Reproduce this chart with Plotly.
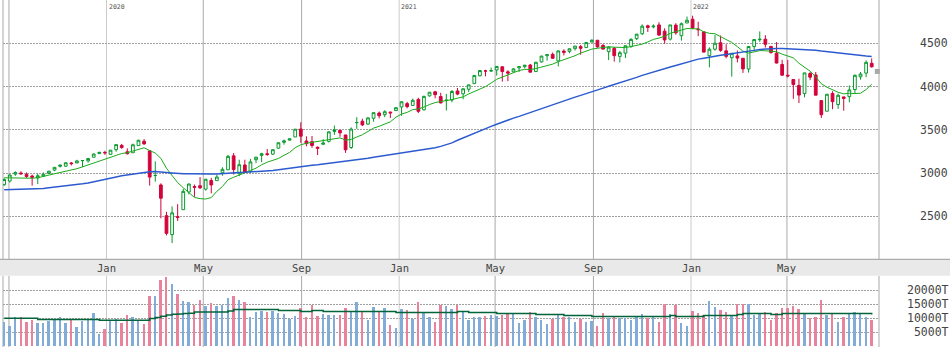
import numpy as np
import pandas as pd
import plotly.graph_objects as go

# Weekly S&P 500 bars, week of 2019-08-26 through week of 2022-08-15
first_week = "2019-08-26"

opens = [
    2866.7, 2909.0, 2988.4, 3001.5, 2983.5, 2967.1, 2944.2, 2965.8, 2996.5, 3035.4,
    3079.0, 3080.3, 3117.9, 3117.4, 3143.9, 3141.9, 3183.6, 3226.1, 3240.1,
    3217.6, 3271.1, 3321.0, 3247.2, 3235.7, 3318.3, 3369.0, 3257.6, 2974.3, 2863.9,
    2508.6, 2290.7, 2498.1, 2578.3, 2782.5, 2845.6, 2854.7, 2815.0, 2915.5, 2913.9,
    3004.1, 3038.8, 3199.9, 2993.8, 3094.4, 3018.6, 3155.3, 3205.1, 3224.3, 3219.8,
    3288.3, 3356.0, 3380.9, 3418.1, 3509.7, 3371.9, 3363.6, 3285.6, 3333.9, 3367.3,
    3500.0, 3493.5, 3441.4, 3296.2, 3583.0, 3600.2, 3566.8, 3634.2, 3694.7, 3675.3,
    3693.4, 3723.0,
    3764.6, 3803.1, 3781.9, 3851.7, 3731.2, 3892.6, 3939.6, 3885.6, 3842.5, 3844.4,
    3949.6, 3916.5, 3969.3, 4034.4, 4124.7, 4179.8, 4185.0, 4192.0, 4228.3, 4169.9,
    4170.2, 4216.5, 4229.3, 4248.9, 4173.4, 4284.9, 4356.5, 4372.4, 4296.4, 4409.6,
    4406.9, 4437.8, 4461.7, 4450.3, 4513.8, 4535.4, 4474.8, 4403.0, 4442.1, 4348.8,
    4385.4, 4463.7, 4553.7, 4610.6, 4701.5, 4689.3, 4712.0, 4640.2, 4548.4, 4710.3,
    4587.9, 4734.0,
    4778.1, 4655.3, 4632.2, 4356.3, 4431.8, 4505.8, 4412.6, 4332.7, 4354.2, 4327.0,
    4202.8, 4462.4, 4541.1, 4548.0, 4462.6, 4385.6, 4255.3, 4130.6, 4081.3, 4013.0,
    3919.4, 4151.1, 4134.7, 3838.2, 3715.3, 3920.8, 3792.6, 3880.9, 3883.8, 3965.7,
    4112.4, 4155.9, 4269.4,
]
highs = [
    2940.1, 2985.9, 3020.0, 3022.0, 3008.0, 2983.9, 2993.3, 3008.3, 3027.4, 3066.9,
    3097.8, 3120.5, 3127.6, 3154.3, 3150.6, 3176.3, 3225.6, 3247.9, 3258.1,
    3267.1, 3329.9, 3337.8, 3285.9, 3341.4, 3385.1, 3393.5, 3259.8, 3136.7, 2882.6,
    2553.9, 2615.9, 2641.4, 2818.6, 2879.2, 2869.0, 2954.9, 2934.3, 2945.8, 2980.3,
    3068.7, 3211.7, 3233.1, 3155.5, 3155.5, 3165.8, 3186.8, 3235.3, 3279.3, 3272.0,
    3352.5, 3387.9, 3400.0, 3509.2, 3588.1, 3425.6, 3428.9, 3306.9, 3393.6, 3482.3,
    3549.9, 3502.4, 3441.4, 3529.0, 3646.0, 3628.5, 3644.3, 3699.2, 3712.4, 3726.7,
    3711.2, 3760.2,
    3826.7, 3823.6, 3861.5, 3870.9, 3894.6, 3937.2, 3950.4, 3928.6, 3914.5, 3960.3,
    3983.9, 3978.2, 4020.6, 4129.5, 4191.3, 4194.2, 4218.8, 4238.0, 4237.0, 4188.7,
    4213.4, 4238.0, 4249.7, 4261.7, 4286.1, 4355.0, 4372.0, 4393.7, 4415.2, 4430.0,
    4440.8, 4468.0, 4480.3, 4513.3, 4545.9, 4535.4, 4492.8, 4465.4, 4457.3, 4412.0,
    4475.8, 4559.7, 4608.1, 4718.5, 4714.9, 4718.5, 4743.8, 4673.0, 4713.0, 4732.0,
    4740.7, 4808.9,
    4818.6, 4748.8, 4632.2, 4453.2, 4595.3, 4590.0, 4489.6, 4385.0, 4416.8, 4327.0,
    4465.4, 4546.0, 4637.3, 4593.5, 4471.0, 4512.9, 4308.5, 4307.7, 4081.3, 4090.7,
    4158.5, 4168.9, 4168.8, 3838.2, 3913.6, 3945.9, 3918.5, 3880.9, 4012.4, 4140.2,
    4167.7, 4301.8, 4325.3,
]
lows = [
    2853.1, 2891.9, 2969.5, 2985.0, 2945.5, 2855.9, 2874.9, 2960.0, 2991.2, 3023.2,
    3065.0, 3075.0, 3089.5, 3117.4, 3070.3, 3123.3, 3182.7, 3222.3, 3212.0,
    3214.6, 3247.9, 3281.5, 3214.7, 3235.7, 3315.2, 3328.5, 2855.8, 2901.4, 2478.9,
    2280.5, 2191.9, 2447.5, 2578.3, 2754.4, 2727.1, 2816.8, 2797.9, 2766.6, 2913.9,
    2969.8, 3038.8, 2984.5, 2965.7, 3004.1, 3000.5, 3115.7, 3127.7, 3200.1, 3209.5,
    3284.5, 3328.6, 3379.3, 3418.1, 3349.6, 3310.0, 3292.4, 3209.5, 3323.7, 3354.2,
    3441.4, 3419.9, 3233.9, 3279.7, 3511.9, 3543.8, 3555.9, 3594.4, 3633.4, 3645.8,
    3636.5, 3723.0,
    3662.7, 3749.6, 3781.9, 3694.1, 3725.6, 3884.9, 3865.0, 3805.6, 3723.3, 3819.3,
    3900.1, 3853.5, 3936.4, 4034.4, 4118.4, 4118.4, 4170.9, 4126.6, 4056.9, 4061.4,
    4170.2, 4167.6, 4210.5, 4164.4, 4173.4, 4278.9, 4300.0, 4321.1, 4233.1, 4360.0,
    4385.0, 4416.8, 4367.7, 4450.3, 4513.8, 4447.8, 4427.4, 4305.9, 4288.5, 4278.9,
    4329.9, 4447.5, 4537.4, 4595.1, 4630.9, 4672.8, 4585.4, 4495.1, 4532.1, 4600.2,
    4531.1, 4734.0,
    4662.7, 4582.2, 4395.3, 4222.6, 4414.0, 4401.4, 4327.2, 4114.7, 4279.5, 4157.9,
    4161.7, 4424.3, 4517.7, 4450.0, 4381.3, 4267.6, 4124.3, 4106.2, 3858.9, 3810.3,
    3875.1, 4073.9, 3900.2, 3636.9, 3715.3, 3738.7, 3742.1, 3721.6, 3818.6, 3913.7,
    4079.8, 4108.0, 4218.7,
]
closes = [
    2926.5, 2978.7, 3007.4, 2992.1, 2961.8, 2952.0, 2970.3, 2986.2, 3022.6, 3066.9,
    3093.1, 3120.5, 3110.3, 3141.0, 3145.9, 3168.8, 3221.2, 3240.0, 3234.9,
    3265.4, 3329.6, 3295.5, 3225.5, 3327.7, 3380.2, 3337.8, 2954.2, 2972.4, 2711.0,
    2304.9, 2541.5, 2488.7, 2789.8, 2874.6, 2836.7, 2830.7, 2929.8, 2863.7, 2955.5,
    3044.3, 3193.9, 3041.3, 3097.7, 3009.1, 3130.0, 3185.0, 3224.7, 3215.6, 3271.1,
    3351.3, 3372.9, 3397.2, 3508.0, 3427.0, 3341.0, 3319.5, 3298.5, 3348.4, 3477.1,
    3483.8, 3465.4, 3270.0, 3509.4, 3585.2, 3557.5, 3638.4, 3699.1, 3663.5, 3709.4,
    3703.1, 3756.1,
    3824.7, 3768.3, 3841.5, 3714.2, 3886.8, 3934.8, 3906.7, 3811.2, 3841.9, 3943.3,
    3913.1, 3974.5, 4019.9, 4128.8, 4185.5, 4180.2, 4181.2, 4232.6, 4173.9, 4155.9,
    4204.1, 4229.9, 4247.4, 4166.5, 4280.7, 4352.3, 4369.6, 4327.2, 4411.8, 4395.3,
    4436.5, 4468.0, 4441.7, 4509.4, 4535.4, 4458.6, 4433.0, 4455.5, 4357.0, 4391.3,
    4471.4, 4544.9, 4605.4, 4697.5, 4682.9, 4698.0, 4594.6, 4538.4, 4712.0, 4620.6,
    4725.8, 4766.2,
    4677.0, 4662.9, 4398.0, 4431.9, 4500.5, 4418.6, 4348.9, 4384.7, 4328.9, 4204.3,
    4463.1, 4543.1, 4545.9, 4488.3, 4392.6, 4271.8, 4131.9, 4123.3, 4023.9, 3901.4,
    4158.2, 4108.5, 3900.9, 3674.8, 3911.7, 3825.3, 3899.4, 3863.2, 3961.6, 4130.3,
    4145.2, 4280.2, 4228.5,
]
# Weekly closes of the year before the first bar (feed the moving averages)
prior_closes = [
    2901.5, 2871.7, 2905.0, 2929.7, 2914.0, 2885.6, 2767.1, 2767.8, 2658.7, 2723.1,
    2781.0, 2736.3, 2632.6, 2760.2, 2633.1, 2600.0, 2416.6, 2485.7,
    2531.9, 2596.3, 2670.7, 2664.8, 2706.5, 2707.9, 2775.6, 2792.7, 2803.7, 2743.1,
    2822.5, 2800.7, 2834.4, 2892.7, 2907.4, 2905.0, 2939.9, 2945.6, 2881.4, 2859.5,
    2826.1, 2752.1, 2873.3, 2887.0, 2950.5, 2941.8, 2990.4, 3013.8, 2976.6, 3025.9,
    2932.1, 2918.7, 2888.7, 2847.1,
]
# Weekly volume, thousands
volumes = [
    8680, 7250, 10360, 10360, 8640, 9290, 8210, 8210, 8930, 9640,
    10360, 8210, 9640, 6790, 8930, 9640, 11790, 4290, 6070, 8930,
    9640, 8210, 11070, 10360, 8930, 7860, 17860, 17860, 23570, 24640,
    22140, 18570, 16070, 15710, 14640, 16430, 14290, 15360, 14290, 14640,
    17140, 17860, 16430, 15710, 10360, 12140, 12500, 12140, 12500, 11790,
    11430, 9640, 10710, 13570, 10360, 14640, 10710, 11430, 11070, 11070,
    11070, 13570, 12140, 15710, 12140, 9290, 13930, 12140, 13570, 7500,
    6430, 13210, 12860, 9640, 15710, 12140, 10360, 8640, 14640, 14290,
    13210, 14640, 12140, 9290, 10360, 10360, 10710, 11070, 10710, 11070,
    11430, 11430, 8210, 9290, 12140, 10360, 9290, 7860, 9640, 11070,
    10360, 10360, 8640, 9640, 8640, 8930, 7140, 11790, 9990, 10360,
    9990, 9990, 9290, 10360, 11430, 9990, 10710, 8640, 15000, 11430,
    14640, 8210, 7140, 12500, 11790, 11070, 16070, 13930, 12860, 12140,
    11070, 15000, 15000, 15000, 11070, 11430, 12140, 9290, 11790, 13570,
    13570, 14290, 13210, 11430, 9990, 10360, 16430, 11070, 11430, 8640,
    10360, 11430, 12140, 11430, 10360, 9290,
]
# Average volume line, thousands
volume_avg = [
    10000, 10000, 10000, 10000, 10000, 10000, 9524, 9524, 9524, 9524,
    9524, 9524, 9524, 9524, 9524, 9524, 9524, 9286, 9286, 9286,
    9286, 9286, 9286, 9286, 9286, 9286, 9881, 10238, 10714, 11190,
    11429, 11550, 11667, 11786, 12262, 12262, 12262, 12262, 12262, 12262,
    12619, 13095, 13095, 13095, 13095, 13095, 13095, 13095, 13095, 12738,
    12738, 12738, 12738, 12381, 12381, 12738, 12738, 12381, 12381, 12381,
    12381, 12381, 12381, 12381, 12381, 12381, 12381, 12381, 12381, 12381,
    12024, 12024, 12024, 12024, 12024, 12024, 12024, 12024, 12024, 12024,
    12024, 12381, 12381, 12024, 12024, 12024, 12024, 12024, 11667, 11667,
    11667, 11667, 11667, 11667, 11667, 11310, 11310, 11310, 11310, 11310,
    10952, 10952, 10952, 10952, 10952, 10595, 10595, 10595, 10595, 10595,
    10595, 10595, 10595, 10595, 10595, 10595, 10595, 10595, 10595, 10952,
    10595, 10595, 10595, 10595, 10595, 10952, 10952, 10952, 10952, 10952,
    10952, 11310, 11667, 11667, 11667, 11667, 11667, 11310, 11310, 11667,
    11667, 11667, 11667, 11667, 11667, 11667, 11667, 11667, 11667, 11667,
    11667, 11667, 11667, 11667, 11667, 11310,
]
last_quote = 4175

month_ticks = ["2020-01-01", "2020-05-01", "2020-09-01", "2021-01-01", "2021-05-01",
               "2021-09-01", "2022-01-01", "2022-05-01"]
month_text = ["Jan", "May", "Sep", "Jan", "May", "Sep", "Jan", "May"]
month_lines = ["2019-09-01"] + month_ticks
year_starts = ["2020-01-01", "2021-01-01", "2022-01-01"]
year_text = ["2020", "2021", "2022"]
price_ticks = [2500, 3000, 3500, 4000, 4500]
volume_ticks = [5000, 10000, 15000, 20000]
volume_text = ["\u00a05000T", "10000T", "15000T", "20000T"]

# ---- derived series ----
weeks = pd.date_range(first_week, periods=len(closes), freq="7D")
all_closes = pd.Series(prior_closes + closes, dtype=float)
n0 = len(prior_closes)
ma_short = all_closes.rolling(9).mean().iloc[n0:].to_numpy()
ma_long = all_closes.rolling(52).mean().iloc[n0:].to_numpy()
prev_close = all_closes.shift(1).iloc[n0:].to_numpy()
rising = np.array(closes) >= prev_close

UP = "#079a2c"
DOWN = "#d2043b"
VOL_UP = "#80acd7"
VOL_DOWN = "#e8839b"
MONO = "DejaVu Sans Mono"
GRID_DASH = "1.5px,1.5px"

o, h, l, c = map(np.array, (opens, highs, lows, closes))


def candle_group(mask, color):
    idx = np.where(mask)[0]
    return go.Candlestick(
        x=weeks[idx], open=o[idx], high=h[idx], low=l[idx], close=c[idx],
        increasing=dict(line=dict(color=color, width=1), fillcolor="white"),
        decreasing=dict(line=dict(color=color, width=1), fillcolor=color),
        whiskerwidth=0, hoverinfo="skip", xaxis="x", yaxis="y",
    )


fig = go.Figure()
fig.add_trace(candle_group(rising, UP))
fig.add_trace(candle_group(~rising, DOWN))
fig.add_trace(go.Scatter(x=weeks, y=ma_short, mode="lines",
                         line=dict(color="#1aab1a", width=1), hoverinfo="skip"))
fig.add_trace(go.Scatter(x=weeks, y=ma_long, mode="lines",
                         line=dict(color="#2c5bcf", width=1.5), hoverinfo="skip"))
fig.add_trace(go.Scatter(x=[weeks[-1] + pd.Timedelta(days=7)], y=[last_quote], mode="markers",
                         marker=dict(symbol="square", size=5, color="#a8a8a8"),
                         cliponaxis=False, hoverinfo="skip"))

fig.add_trace(go.Bar(x=weeks, y=volumes, xaxis="x2", yaxis="y2",
                     marker=dict(color=[VOL_UP if r else VOL_DOWN for r in rising], line=dict(width=0)),
                     width=2.4 * 86400000, hoverinfo="skip"))
fig.add_trace(go.Scatter(x=weeks, y=volume_avg, xaxis="x2", yaxis="y2", mode="lines",
                         line=dict(color="#03643a", width=1.5, shape="hv"), hoverinfo="skip"))

H = 347.0
main_bottom = 1 - 259.3 / H
vol_top = 1 - 276.0 / H
band_top = 1 - 259.3 / H
band_bottom = 1 - 275.8 / H

x_range = ["2019-08-24 13:00", "2022-08-24 03:00"]

shapes = []
# vertical month lines in both panels
for d in month_lines:
    col = "#cbcbcb" if d in year_starts else "#a9a9a9"
    for yr in ("y domain", "y2 domain"):
        shapes.append(dict(type="line", xref="x", yref=yr, x0=d, x1=d, y0=0, y1=1,
                           line=dict(color=col, width=1), layer="below"))
# panel side borders
for px in (0, 1):
    for yr in ("y domain", "y2 domain"):
        shapes.append(dict(type="line", xref="paper", yref=yr, x0=px, x1=px, y0=0, y1=1,
                           line=dict(color="#a9a9a9", width=1), layer="below"))
# date band between the panels
shapes.append(dict(type="rect", xref="paper", yref="paper", x0=-0.01, x1=1.09,
                   y0=band_bottom, y1=band_top, fillcolor="#e9e9e9", line=dict(width=0),
                   layer="below"))
shapes.append(dict(type="line", xref="paper", yref="paper", x0=-0.01, x1=1.09,
                   y0=band_top, y1=band_top, line=dict(color="#ababab", width=1.2),
                   layer="below"))

annotations = []
for d, t in zip(month_ticks, month_text):
    annotations.append(dict(x=d, xref="x", y=(band_top + band_bottom) / 2, yref="paper",
                            text=t, showarrow=False, xanchor="center", yanchor="middle",
                            font=dict(family=MONO, size=10.5, color="#444")))
for d, t in zip(year_starts, year_text):
    annotations.append(dict(x=d, xref="x", y=1, yref="paper", text=t, showarrow=False,
                            xanchor="left", yanchor="top", xshift=0, yshift=-1,
                            font=dict(family=MONO, size=6.5, color="#555")))

fig.update_layout(
    width=950, height=347,
    margin=dict(l=3, r=71, t=0, b=0),
    paper_bgcolor="white", plot_bgcolor="white",
    showlegend=False, bargap=0,
    shapes=shapes, annotations=annotations,
    xaxis=dict(type="date", range=x_range, domain=[0, 1], anchor="y",
               showgrid=False, zeroline=False, showticklabels=False, ticks="",
               rangeslider=dict(visible=False), fixedrange=True),
    xaxis2=dict(type="date", range=x_range, domain=[0, 1], anchor="y2", matches="x",
                showgrid=False, zeroline=False, showticklabels=False, ticks=""),
    yaxis=dict(domain=[main_bottom, 1], range=[2005, 5000], side="right", anchor="x",
               tickvals=price_ticks, ticktext=[str(v) for v in price_ticks],
               showgrid=True, gridcolor="#a0a0a0", griddash=GRID_DASH, gridwidth=1,
               zeroline=False, ticks="", ticklabelstandoff=40,
               tickfont=dict(family=MONO, size=11.5, color="#444")),
    yaxis2=dict(domain=[0, vol_top], range=[-200, 25000], side="right", anchor="x2",
                tickvals=volume_ticks, ticktext=volume_text,
                showgrid=True, gridcolor="#a0a0a0", griddash=GRID_DASH, gridwidth=1,
                zeroline=False, ticks="", ticklabelstandoff=27,
                tickfont=dict(family=MONO, size=11.5, color="#444")),
)

fig.write_html("out.html")
